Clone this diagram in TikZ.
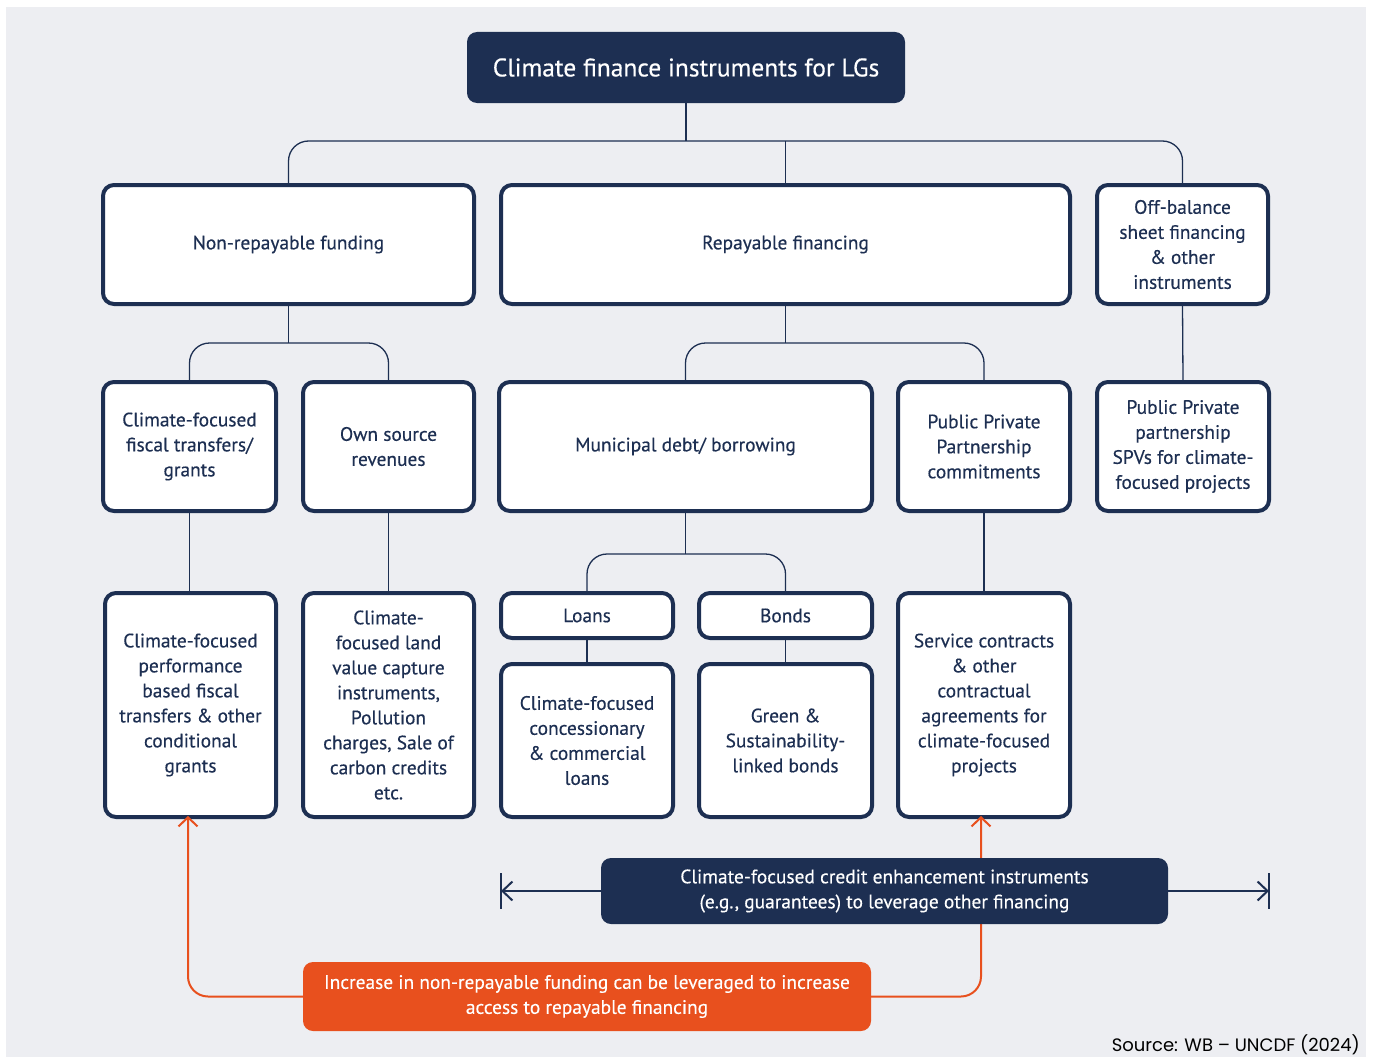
\documentclass[tikz,border=0pt]{standalone}
\usepackage{fontspec}
\setmainfont{PT Sans}[FakeBold=0.35]
\newfontfamily\sourcefont{Poppins}
\usetikzlibrary{arrows.meta,positioning}
\definecolor{navy}{HTML}{1D2F52}
\definecolor{orng}{HTML}{E8501E}
\definecolor{panel}{HTML}{EDEEF2}

\begin{document}
\begin{tikzpicture}[x=1pt, y=-1pt,
  box/.style={draw=navy, line width=4pt, fill=white, rounded corners=11pt,
    text=navy, align=center, inner sep=0pt, font=\fontsize{19.4}{25}\selectfont},
  banner/.style={fill=navy, rounded corners=10pt, text=white, align=center,
    inner sep=0pt, font=\fontsize{19.4}{25}\selectfont},
  link/.style={navy, line width=1.3pt, rounded corners=20pt},
  lever/.style={orng, line width=2pt, rounded corners=20pt,
    -{Straight Barb[length=9pt,width=19pt,line width=2pt]}},
  span/.style={navy, line width=2pt,
    -{Straight Barb[length=10pt,width=19pt,line width=2pt]}}]
  % page and panel
  \useasboundingbox (0,0) rectangle (1373,1057);
  \fill[white] (0,0) rectangle (1373,1057);
  \fill[panel] (6,7) rectangle (1366,1057);

  % top
  \node[fill=navy, rounded corners=10pt, text=white, inner sep=0pt,
    minimum width=438, minimum height=71, font=\fontsize{25.5}{30}\selectfont]
    (root) at (686,67.5) {Climate finance instruments for LGs};

  % first level
  \node[box, minimum width=371, minimum height=119] (nonrep) at (288.5,244.5) {Non-repayable funding};
  \node[box, minimum width=569, minimum height=119] (repay) at (785.5,244.5) {Repayable financing};
  \node[box, minimum width=171, minimum height=119] (offbal) at (1182.5,244.5)
    {Off-balance\\sheet financing\\\& other\\instruments};

  % second level
  \node[box, minimum width=173, minimum height=129] (fiscal) at (189.5,446.5)
    {Climate-focused\\fiscal transfers/\\grants};
  \node[box, minimum width=171, minimum height=129] (ownsrc) at (388.5,446.5)
    {Own source\\revenues};
  \node[box, minimum width=373, minimum height=129] (debt) at (685.5,446.5)
    {Municipal debt/ borrowing};
  \node[box, minimum width=172, minimum height=129] (pppcom) at (984,446.5)
    {Public Private\\Partnership\\commitments};
  \node[box, minimum width=172, minimum height=129] (pppspv) at (1183,446.5)
    {Public Private\\partnership\\SPVs for climate-\\focused projects};

  % third level
  \node[box, minimum width=171, minimum height=224] (perf) at (190.5,705)
    {Climate-focused\\performance\\based fiscal\\transfers \& other\\conditional\\grants};
  \node[box, minimum width=171, minimum height=224] (capture) at (388.5,705)
    {Climate-\\focused land\\value capture\\instruments,\\Pollution\\charges, Sale of\\carbon credits\\etc.};
  \node[box, minimum width=172, minimum height=45] (loans) at (587,615.5) {Loans};
  \node[box, minimum width=173, minimum height=45] (bonds) at (785.5,615.5) {Bonds};
  \node[box, minimum width=172, minimum height=153] (loantypes) at (587,740.5)
    {Climate-focused\\concessionary\\\& commercial\\loans};
  \node[box, minimum width=173, minimum height=153] (greenb) at (785.5,740.5)
    {Green \&\\Sustainability-\\linked bonds};
  \node[box, minimum width=172, minimum height=224] (service) at (984,705)
    {Service contracts\\\& other\\contractual\\agreements for\\climate-focused\\projects};

  % tree lines: parent drops, then rounded cross bars
  \draw[link] (root.south) -- ++(0,38);
  \draw[link] (nonrep.north) -- ++(0,-42) -| (offbal.north);
  \draw[link] (repay.north) -- ++(0,-42);
  \draw[link] (nonrep.south) -- ++(0,37);
  \draw[link] (fiscal.north) -- ++(0,-37) -| (ownsrc.north);
  \draw[link] (repay.south) -- ++(0,37);
  \draw[link] (debt.north) -- ++(0,-37) -| (pppcom.north);
  \draw[link] (offbal.south) -- (pppspv.north);
  \draw[link] (fiscal.south) -- (fiscal.south |- perf.north);
  \draw[link] (ownsrc.south) -- (capture.north);
  \draw[link] (debt.south) -- ++(0,41);
  \draw[link] (loans.north) -- ++(0,-37) -| (bonds.north);
  \draw[link] (pppcom.south) -- (service.north);
  \draw[link] (loans.south) -- (loantypes.north);
  \draw[link] (bonds.south) -- (greenb.north);

  % leverage loop
  \node[fill=orng, rounded corners=10pt, text=white, align=center, inner sep=0pt,
    minimum width=568, minimum height=69, font=\fontsize{19.4}{25}\selectfont]
    (leverage) at (587,996.5)
    {Increase in non-repayable funding can be leveraged to increase\\access to repayable financing};
  \draw[lever] (leverage.west) -| ([yshift=3pt]perf.south -| 188,0);
  \draw[lever] (leverage.east) -| ([yshift=3pt]service.south -| 981,0);

  % credit enhancement
  \node[banner, minimum width=567, minimum height=66] (credit) at (884.5,891)
    {Climate-focused credit enhancement instruments\\(e.g., guarantees) to leverage other financing};
  \coordinate (lend) at (501,891);
  \coordinate (rend) at (1269,891);
  \draw[span] (credit.west) -- (lend);
  \draw[span] (credit.east) -- (rend);
  \draw[navy, line width=2.5pt] (lend) ++(0,-18) -- ++(0,36);
  \draw[navy, line width=2.5pt] (rend) ++(0,-18) -- ++(0,36);

  \node[anchor=base east, inner sep=0pt, text=black,
    font=\sourcefont\fontsize{18}{20}\selectfont] (src) at (1360,1051)
    {Source: WB – UNCDF (2024)};
\end{tikzpicture}
\end{document}
